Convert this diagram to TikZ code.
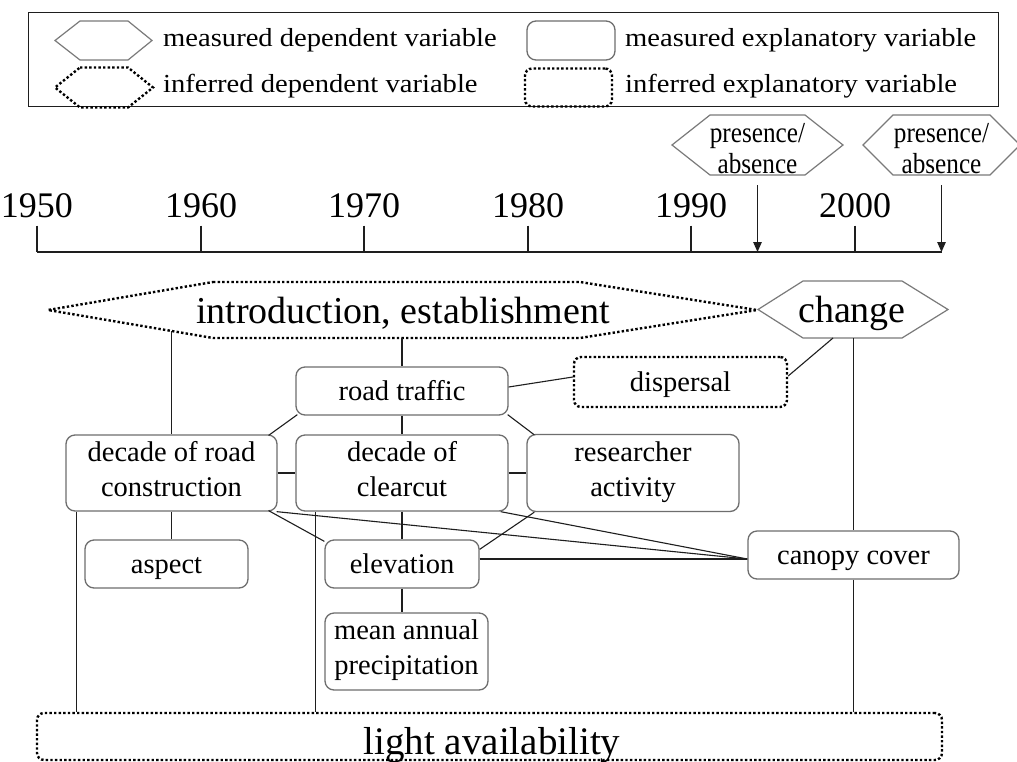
\documentclass[tikz,border=0pt]{standalone}
\usepackage{graphicx}
\usepackage{fontspec}
\setmainfont{Liberation Serif}
\usetikzlibrary{calc,arrows.meta}
\newcommand\setfs[2]{\fontsize{#1}{#2}\selectfont}
\newcommand\pscale[1]{\scalebox{0.87}[1]{#1}}
\newcommand\lscale[1]{\scalebox{1.1}[1]{#1}}
\newcommand\bstrut{\rule[-8pt]{0pt}{34pt}}
\newcommand\mstrut{\rule[-6pt]{0pt}{34pt}}
\newcommand\hstrut{\rule[-7pt]{0pt}{41pt}}
% style, node, left, right, half height, left slant, right slant
\newcommand\hexfor[7]{%
  \draw[#1] ($(#2)+(-#3,-#5)$) -- ($(#2)+(#4,-#5)$) -- ($(#2)+(#4+#7,0)$) -- ($(#2)+(#4,#5)$) -- ($(#2)+(-#3,#5)$) -- ($(#2)+(-#3-#6,0)$) -- cycle;
  \coordinate (#2b) at ($(#2)+(0,#5)$);}
\definecolor{boxgray}{HTML}{6E6E6E}
\definecolor{hexgray}{HTML}{7A7A7A}
\definecolor{linecol}{HTML}{1E1E1E}
\begin{document}
\begin{tikzpicture}[x=1pt,y=-1pt,
  box/.style={draw=boxgray, line width=1.3pt, rounded corners=9pt, inner sep=0pt, align=center, font=\setfs{28.5}{35}, execute at begin node=\bstrut, execute at end node=\bstrut},
  mbox/.style={box, execute at begin node=\mstrut, execute at end node=\mstrut},
  dbox/.style={box, draw=black, line width=2.4pt, dash pattern=on 2.4pt off 2.2pt, rounded corners=7pt},
  hexin/.style={inner sep=0pt, align=center},
  hexline/.style={draw=hexgray, line width=1.2pt, line join=miter},
  dots/.style={draw=black, line width=2.4pt, dash pattern=on 2.4pt off 2.2pt},
  conn/.style={draw=linecol, line width=1.1pt},
  tip/.style={conn, -{Triangle[length=10pt,width=8.5pt]}},
  year/.style={inner sep=0pt, anchor=base, font=\setfs{36}{40}},
  legtext/.style={inner sep=0pt, anchor=base west, font=\setfs{26}{30}}
]
\useasboundingbox (0,0) rectangle (1017,761);
\fill[white] (0,0) rectangle (1017,761);
\clip (0,0) rectangle (1017,761);

% legend
\node[draw=linecol, line width=1.2pt, minimum width=970pt, minimum height=94pt, anchor=north west, inner sep=0pt] (legend) at (28,12) {};
\coordinate (lhm) at (104,40.5);
\hexfor{hexline}{lhm}{24}{24}{19.5}{25}{24}
\coordinate (lhi) at (104,87.5);
\hexfor{dots}{lhi}{24}{24}{20}{25}{25}
\node[box, minimum width=88pt, minimum height=39pt] (lrm) at (571,40.5) {};
\node[dbox, minimum width=87pt, minimum height=38pt] (lri) at (568.5,87.5) {};
\node[legtext] (ltm) at (163,46) {\lscale{measured dependent variable}};
\node[legtext] (lti) at (163,92) {\lscale{inferred dependent variable}};
\node[legtext] (ltr) at (625,46) {\lscale{measured explanatory variable}};
\node[legtext] (ltq) at (625,92) {\lscale{inferred explanatory variable}};

% timeline
\coordinate (axisL) at (37,252);
\coordinate (axisR) at (942,252);
\draw[conn] (axisL) -- (axisR);
\foreach \yr/\xx in {1950/37,1960/201,1970/364,1980/528,1990/691,2000/855}{
  \node[year] (y\yr) at (\xx,217) {\yr};
  \draw[conn] ($(y\yr.south)+(0,8)$) -- (y\yr.south |- axisL);
}

% presence/absence
\node[hexin, font=\setfs{29}{31}, yshift=-4pt] (pa1) at (757.5,145) {\pscale{presence/}\\\pscale{absence}};
\coordinate (pa1c) at (757.5,145);
\hexfor{hexline}{pa1c}{47.5}{47.5}{30}{38}{38}
\node[hexin, font=\setfs{29}{31}, yshift=-4pt] (pa2) at (941.5,145) {\pscale{presence/}\\\pscale{absence}};
\coordinate (pa2c) at (941.5,145);
\hexfor{hexline}{pa2c}{48.5}{48.5}{30}{30}{30}
\draw[tip] ($(pa1cb)+(0,10)$) -- (pa1cb |- axisL);
\draw[tip] ($(pa2cb)+(0,10)$) -- (pa2cb |- axisL);

% dependent variables
\node[hexin, font=\setfs{38}{44}] (intro) at (403,310) {\hstrut introduction, establishment\hstrut};
\hexfor{dots}{intro}{190}{177}{28}{165}{177}
\node[hexin, font=\setfs{38}{44}] (change) at (852,309.5) {\hstrut change\hstrut};
\hexfor{hexline}{change}{49}{50}{28.5}{45}{46}

% explanatory variables
\node[box, minimum width=212pt, minimum height=48pt] (traffic) at (402,391) {road traffic};
\node[dbox, minimum width=213pt, minimum height=50pt] (dispersal) at (680.5,382) {dispersal};
\node[mbox, minimum width=211pt, minimum height=76pt] (roadc) at (171.5,473) {decade of road\\construction};
\node[mbox, minimum width=212pt, minimum height=76pt] (clearcut) at (402,473) {decade of\\clearcut};
\node[mbox, minimum width=212pt, minimum height=77pt] (research) at (633,473) {researcher\\activity};
\node[box, minimum width=163pt, minimum height=48pt] (aspect) at (166.5,564) {aspect};
\node[box, minimum width=154pt, minimum height=48pt] (elev) at (402,564) {elevation};
\node[mbox, minimum width=163pt, minimum height=77pt] (precip) at (406.5,651.5) {mean annual\\precipitation};
\node[box, minimum width=211pt, minimum height=48pt] (canopy) at (853.5,555) {canopy cover};
\node[dbox, minimum width=905pt, minimum height=47pt] (light) at (489.5,736.5) {};
\node[inner sep=0pt, anchor=base, font=\setfs{39}{44}] (lighttxt) at (492,754) {light availability};

% connectors
\coordinate (introL) at (171.5,331);
\draw[conn] (introL) -- (roadc.north);
\draw[conn] (traffic.north |- introb) -- (traffic.north);
\draw[conn] (canopy.north |- changeb) -- (canopy.north);
\draw[conn] (canopy.south) -- (canopy.south |- light.north);
\draw[conn] ($(changeb)+(-19,0)$) -- ($(dispersal.east)+(0,-6)$);
\draw[conn] ($(traffic.east)+(0,-4)$) -- ($(dispersal.west)+(0,-5)$);
\draw[conn] (traffic.south) -- (clearcut.north);
\draw[conn] ($(traffic.south west)+(2,-1)$) -- ($(roadc.north east)+(-9,1)$);
\draw[conn] ($(traffic.south east)+(-1,-1)$) -- ($(research.north west)+(8,1)$);
\draw[conn] (roadc.east) -- (clearcut.west);
\draw[conn] (clearcut.east) -- (research.west);
\draw[conn] (roadc.south) -- (roadc.south |- aspect.north);
\draw[conn] ($(roadc.south east)+(-9,-1)$) -- ($(elev.north west)+(0,2)$);
\draw[conn] ($(roadc.south east)+(-1,0)$) -- ($(canopy.west)+(0,4)$);
\draw[conn] ($(clearcut.south east)+(-8,0)$) -- ($(canopy.west)+(0,4)$);
\draw[conn] ($(research.south west)+(8,0)$) -- ($(elev.north east)+(0,10)$);
\draw[conn] ($(elev.east)+(0,-5)$) -- ($(canopy.west)+(0,4)$);
\draw[conn] (clearcut.south) -- (elev.north);
\draw[conn] (elev.south) -- (elev.south |- precip.north);
\draw[conn] ($(roadc.south west)+(11,0)$) coordinate (rcl) -- (rcl |- light.north);
\draw[conn] ($(clearcut.south west)+(20,0)$) coordinate (ccl) -- (ccl |- light.north);
\end{tikzpicture}
\end{document}
